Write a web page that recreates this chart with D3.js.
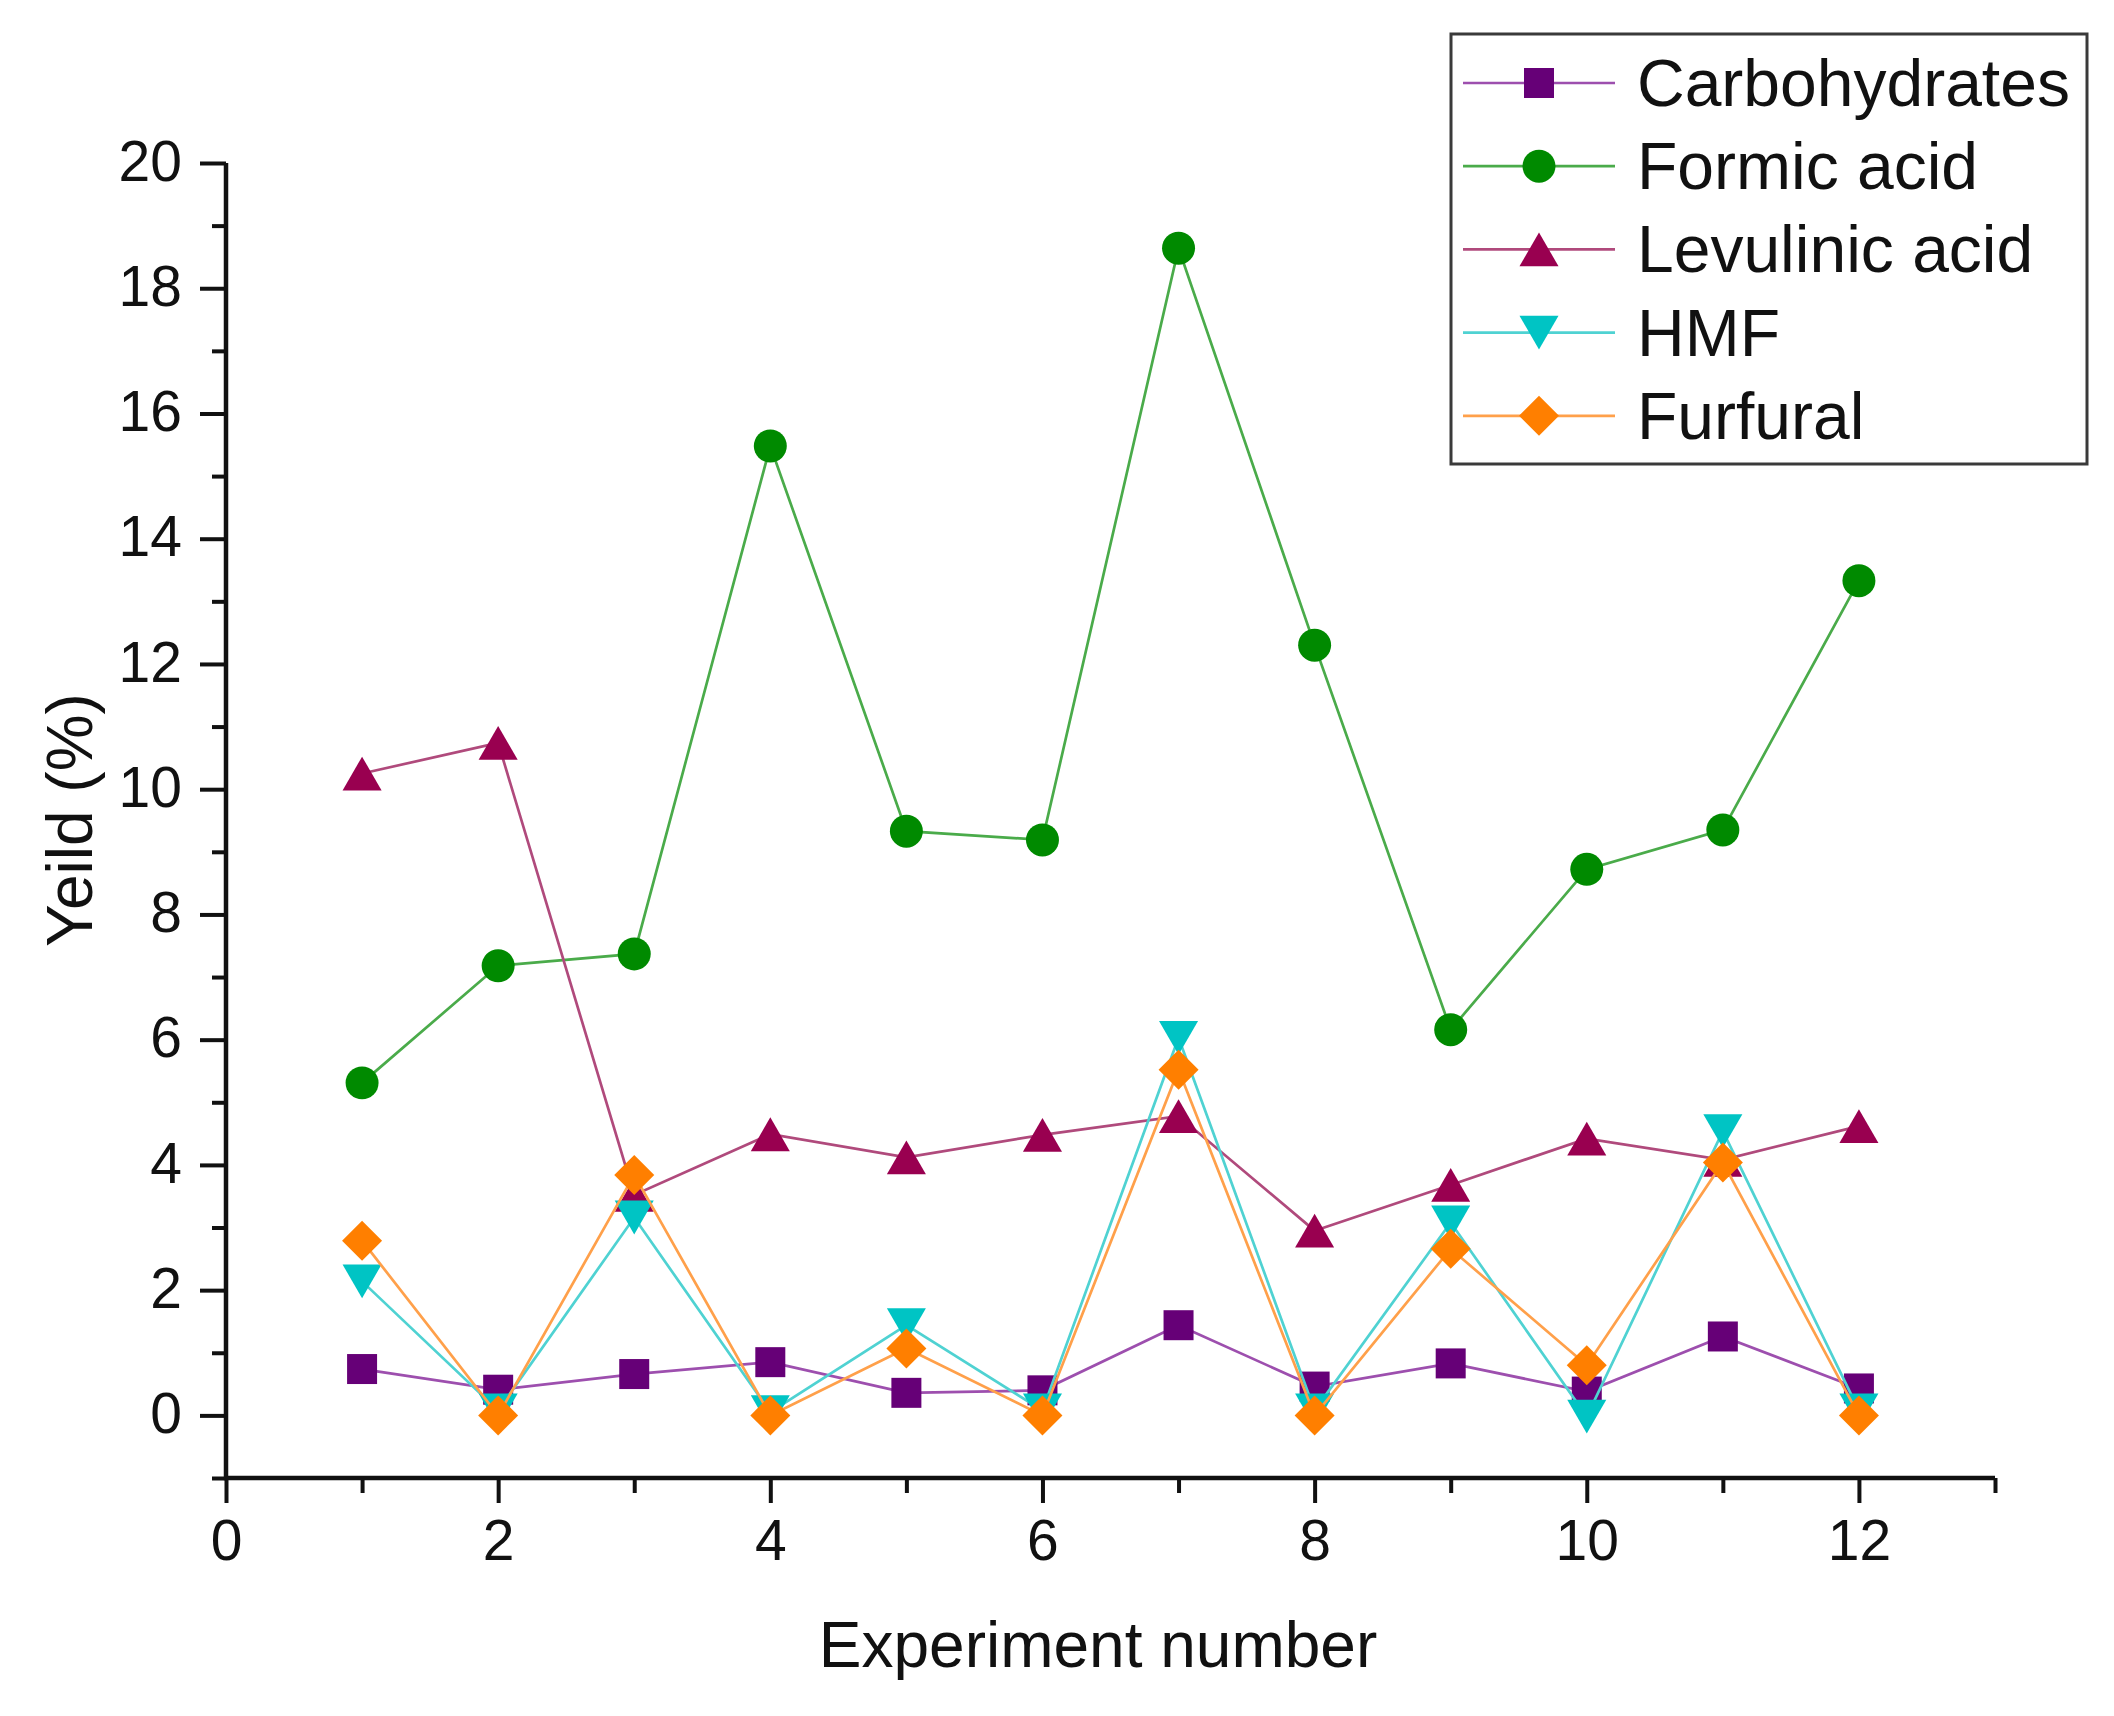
<!DOCTYPE html>
<html>
<head>
<meta charset="utf-8">
<script src="https://cdn.jsdelivr.net/npm/d3@7"></script>
<style>
  html, body { margin: 0; padding: 0; background: #fff; }
  text { font-family: "Liberation Sans", Arial, sans-serif; fill: #111; }
</style>
</head>
<body>
<div id="grafico"></div>
<script>
// Datos
const experimentos = [1, 2, 3, 4, 5, 6, 7, 8, 9, 10, 11, 12];
const carbohidratos = [0.74, 0.41, 0.66, 0.85, 0.36, 0.40, 1.44, 0.46, 0.83, 0.38, 1.26, 0.43];
const formico = [5.31, 7.18, 7.37, 15.48, 9.33, 9.19, 18.64, 12.30, 6.16, 8.72, 9.35, 13.33];
const levulinico = [10.25, 10.74, 3.52, 4.49, 4.12, 4.48, 4.78, 2.95, 3.68, 4.42, 4.08, 4.62];
const hmf = [2.14, 0.08, 3.16, 0.05, 1.44, 0.08, 6.03, 0.08, 3.08, -0.02, 4.54, 0.08];
const furfural = [2.79, 0.0, 3.84, 0.0, 1.07, 0.0, 5.52, 0.0, 2.66, 0.80, 4.04, 0.0];

const nombres = ["Carbohydrates", "Formic acid", "Levulinic acid", "HMF", "Furfural"];
const ticksY = [0, 2, 4, 6, 8, 10, 12, 14, 16, 18, 20];
const ticksYMenores = [-1, 1, 3, 5, 7, 9, 11, 13, 15, 17, 19];
const ticksX = [0, 2, 4, 6, 8, 10, 12];
const ticksXMenores = [1, 3, 5, 7, 9, 11, 13];

const series = [
  { nombre: nombres[0], valores: carbohidratos, marca: "#660077", linea: "#9d4fae", simbolo: "cuadrado" },
  { nombre: nombres[1], valores: formico, marca: "#008a00", linea: "#4aab4a", simbolo: "circulo" },
  { nombre: nombres[2], valores: levulinico, marca: "#990050", linea: "#b04a7c", simbolo: "triangulo" },
  { nombre: nombres[3], valores: hmf, marca: "#00c4c4", linea: "#4fd2d2", simbolo: "trianguloAbajo" },
  { nombre: nombres[4], valores: furfural, marca: "#ff7f00", linea: "#ffa04a", simbolo: "diamante" }
];

const svgWidth = 2114, svgHeight = 1716;
const svg = d3.select("#grafico")
  .append("svg")
  .attr("width", svgWidth)
  .attr("height", svgHeight);

const x = d3.scaleLinear().domain([0, 13]).range([226, 1995]);
const y = d3.scaleLinear().domain([-1, 20]).range([1478, 163]);

// Triangulo centrado en su caja (como Origin)
const trianguloCaja = {
  draw(context, size) {
    const s = Math.sqrt(4 * size / Math.sqrt(3));
    const h = s * Math.sqrt(3) / 2;
    context.moveTo(0, -h / 2);
    context.lineTo(s / 2, h / 2);
    context.lineTo(-s / 2, h / 2);
    context.closePath();
  }
};

// Simbolos
function caminoSimbolo(tipo) {
  if (tipo === "cuadrado") return d3.symbol(d3.symbolSquare, 900)();
  if (tipo === "circulo") return d3.symbol(d3.symbolCircle, 855)();
  if (tipo === "triangulo" || tipo === "trianguloAbajo") return d3.symbol(trianguloCaja, 660)();
  return d3.symbol(d3.symbolSquare, 800)();
}
function giro(tipo) {
  if (tipo === "trianguloAbajo") return " rotate(180)";
  if (tipo === "diamante") return " rotate(45)";
  return "";
}

// Eje Y
const ejeY = svg.append("g").attr("transform", "translate(226,0)");
ejeY.call(d3.axisLeft(y).tickValues(ticksY).tickSize(26).tickSizeOuter(0).tickPadding(18))
  .call(g => g.select(".domain").remove());
ejeY.selectAll("text").attr("font-size", 57).attr("font-family", "Liberation Sans").attr("fill", "#111").attr("dy", "0.30em");
svg.append("g").attr("transform", "translate(226,0)")
  .call(d3.axisLeft(y).tickValues(ticksYMenores).tickSize(14).tickSizeOuter(0).tickFormat(""))
  .call(g => g.select(".domain").remove());

// Eje X
const ejeX = svg.append("g").attr("transform", "translate(0,1478)");
ejeX.call(d3.axisBottom(x).tickValues(ticksX).tickSize(25).tickSizeOuter(0).tickPadding(17))
  .call(g => g.select(".domain").remove());
ejeX.selectAll("text").attr("font-size", 57).attr("font-family", "Liberation Sans").attr("fill", "#111");
svg.append("g").attr("transform", "translate(0,1478)")
  .call(d3.axisBottom(x).tickValues(ticksXMenores).tickSize(15).tickSizeOuter(0).tickFormat(""))
  .call(g => g.select(".domain").remove());

svg.selectAll(".tick line").attr("stroke", "#111").attr("stroke-width", 4);

// Lineas de los ejes
svg.append("path")
  .attr("d", `M${x(0)},${y(20)} V${y(-1)} H${x(13)}`)
  .attr("fill", "none")
  .attr("stroke", "#111")
  .attr("stroke-width", 4.5);

// Series
const linea = d3.line().x((d, i) => x(experimentos[i])).y(d => y(d));
series.forEach(s => {
  svg.append("path")
    .datum(s.valores)
    .attr("d", linea)
    .attr("fill", "none")
    .attr("stroke", s.linea)
    .attr("stroke-width", 2.7);
  svg.selectAll(null)
    .data(s.valores)
    .enter().append("path")
    .attr("d", caminoSimbolo(s.simbolo))
    .attr("transform", (d, i) => `translate(${x(experimentos[i])},${y(d)})${giro(s.simbolo)}`)
    .attr("fill", s.marca);
});

// Etiqueta de eje X
svg.append("text")
  .attr("x", 1098)
  .attr("y", 1667)
  .attr("text-anchor", "middle")
  .attr("font-size", 64)
  .text("Experiment number");

// Etiqueta de eje Y
svg.append("text")
  .attr("transform", "translate(92,820) rotate(-90)")
  .attr("text-anchor", "middle")
  .attr("font-size", 64)
  .text("Yeild (%)");

// Leyenda
const leyenda = svg.append("g");
leyenda.append("rect")
  .attr("x", 1451).attr("y", 34)
  .attr("width", 636).attr("height", 430)
  .attr("fill", "#fff")
  .attr("stroke", "#3a3a3a")
  .attr("stroke-width", 3);
series.forEach((s, i) => {
  const fy = 83 + i * 83.2;
  leyenda.append("line")
    .attr("x1", 1463).attr("x2", 1615)
    .attr("y1", fy).attr("y2", fy)
    .attr("stroke", s.linea).attr("stroke-width", 2.7);
  leyenda.append("path")
    .attr("d", caminoSimbolo(s.simbolo))
    .attr("transform", `translate(1539,${fy})${giro(s.simbolo)}`)
    .attr("fill", s.marca);
  leyenda.append("text")
    .attr("x", 1637)
    .attr("y", fy + 23)
    .attr("font-size", 66)
    .text(s.nombre);
});
</script>
</body>
</html>
